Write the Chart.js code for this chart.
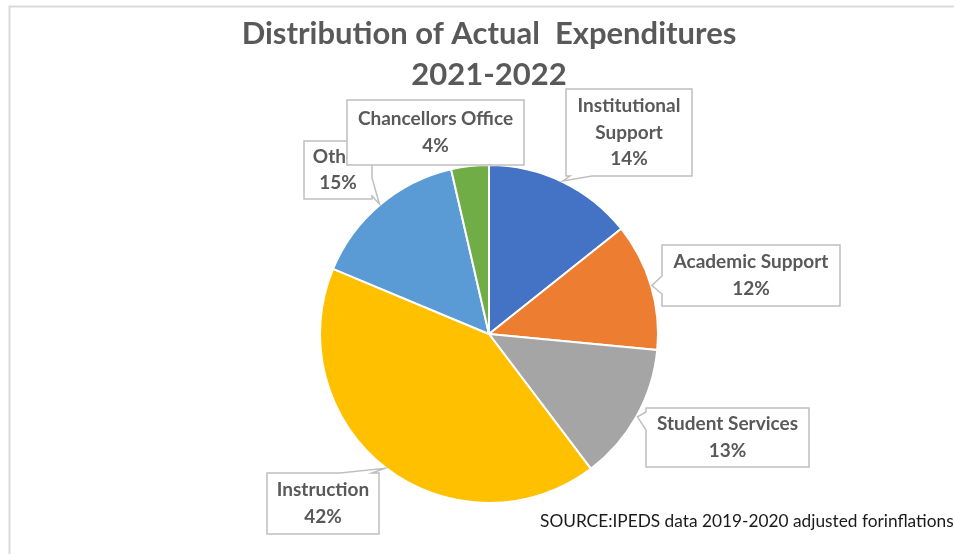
<!DOCTYPE html>
<html>
<head>
<meta charset="utf-8">
<script src="https://cdn.jsdelivr.net/npm/chart.js@4"></script>
<style>
  html, body { margin: 0; padding: 0; background: #ffffff; }
  #wrap { width: 954px; height: 554px; position: relative; }
</style>
</head>
<body>
<div id="wrap"><canvas id="c" width="954" height="554"></canvas></div>
<script>
// ---- data ----
const categories = ['Institutional Support', 'Academic Support', 'Student Services', 'Instruction', 'Other', 'Chancellors Office'];
const values = [14.3, 12.2, 13.2, 41.6, 15.1, 3.6];
const percentLabels = ['14%', '12%', '13%', '42%', '15%', '4%'];
const labelLines = [['Institutional', 'Support'], ['Academic Support'], ['Student Services'], ['Instruction'], ['Other'], ['Chancellors Office']];
const sliceColors = ['#4472C4', '#ED7D31', '#A5A5A5', '#FFC000', '#5B9BD5', '#70AD47'];
const titleLines = ['Distribution of Actual  Expenditures', '2021-2022'];
const sourceNote = 'SOURCE:IPEDS data 2019-2020 adjusted forinflations';

// callout box layout (annotation placement)
const callouts = [
  { box: [566, 89, 692, 176], side: 'bottom', base: [570, 592] },
  { box: [662, 245, 840, 306], side: 'left', base: [276, 294] },
  { box: [646, 408, 809, 467], side: 'left', base: [412, 430] },
  { box: [267, 473, 379, 534], side: 'top', base: [340, 372] },
  { box: [304, 141, 372, 199], side: 'right', base: [178, 196] },
  { box: [347, 100, 524, 165], side: 'bottom', base: [447, 490] }
];
const drawOrder = [0, 1, 2, 3, 4, 5];

const frameAndCallouts = {
  id: 'frameAndCallouts',
  beforeDraw(chart) {
    const ctx = chart.ctx;
    ctx.save();
    ctx.fillStyle = '#ffffff';
    ctx.fillRect(0, 0, chart.width, chart.height);
    ctx.strokeStyle = '#d9d9d9';
    ctx.lineWidth = 2;
    ctx.beginPath();
    ctx.moveTo(9.5, chart.height);
    ctx.lineTo(9.5, 6.5);
    ctx.lineTo(chart.width, 6.5);
    ctx.stroke();
    ctx.restore();
  },
  afterDatasetsDraw(chart) {
    const ctx = chart.ctx;
    const meta = chart.getDatasetMeta(0);
    ctx.save();
    drawOrder.forEach(i => {
      const arc = meta.data[i];
      const p = arc.getProps(['x', 'y', 'startAngle', 'endAngle', 'outerRadius'], true);
      const mid = (p.startAngle + p.endAngle) / 2;
      const tip = [p.x + Math.cos(mid) * (p.outerRadius + 1), p.y + Math.sin(mid) * (p.outerRadius + 1)];
      const c = callouts[i];
      const [x1, y1, x2, y2] = c.box;
      ctx.beginPath();
      ctx.moveTo(x1, y1);
      if (c.side === 'top') { ctx.lineTo(c.base[0], y1); ctx.lineTo(tip[0], tip[1]); ctx.lineTo(c.base[1], y1); }
      ctx.lineTo(x2, y1);
      if (c.side === 'right') { ctx.lineTo(x2, c.base[0]); ctx.lineTo(tip[0], tip[1]); ctx.lineTo(x2, c.base[1]); }
      ctx.lineTo(x2, y2);
      if (c.side === 'bottom') { ctx.lineTo(c.base[1], y2); ctx.lineTo(tip[0], tip[1]); ctx.lineTo(c.base[0], y2); }
      ctx.lineTo(x1, y2);
      if (c.side === 'left') { ctx.lineTo(x1, c.base[1]); ctx.lineTo(tip[0], tip[1]); ctx.lineTo(x1, c.base[0]); }
      ctx.closePath();
      ctx.fillStyle = '#ffffff';
      ctx.fill();
      ctx.strokeStyle = '#bfbfbf';
      ctx.lineWidth = 1.5;
      ctx.stroke();
      const lines = labelLines[i].concat([percentLabels[i]]);
      const lh = 26.5;
      const cx = (x1 + x2) / 2;
      const cy = (y1 + y2) / 2;
      ctx.fillStyle = '#595959';
      ctx.font = 'bold 19px Lato';
      ctx.textAlign = 'center';
      ctx.textBaseline = 'middle';
      lines.forEach((t, k) => {
        ctx.fillText(t, cx, cy + (k - (lines.length - 1) / 2) * lh);
      });
    });
    ctx.fillStyle = '#1a1a1a';
    ctx.font = '17.3px Lato';
    ctx.textAlign = 'left';
    ctx.textBaseline = 'middle';
    ctx.fillText(sourceNote, 540, 521);
    ctx.restore();
  }
};

new Chart(document.getElementById('c'), {
  type: 'pie',
  data: {
    labels: categories,
    datasets: [{
      data: values,
      backgroundColor: sliceColors,
      borderColor: '#ffffff',
      borderWidth: 2
    }]
  },
  options: {
    responsive: false,
    animation: false,
    radius: 169,
    layout: { padding: { top: 0, left: 24, right: 0, bottom: 51 } },
    plugins: {
      legend: { display: false },
      tooltip: { enabled: false },
      title: {
        display: true,
        text: titleLines,
        color: '#595959',
        font: { family: 'Lato', size: 31, weight: 'bold', lineHeight: 41 / 31 },
        padding: { top: 13, bottom: 70 }
      }
    }
  },
  plugins: [frameAndCallouts]
});
</script>
</body>
</html>
